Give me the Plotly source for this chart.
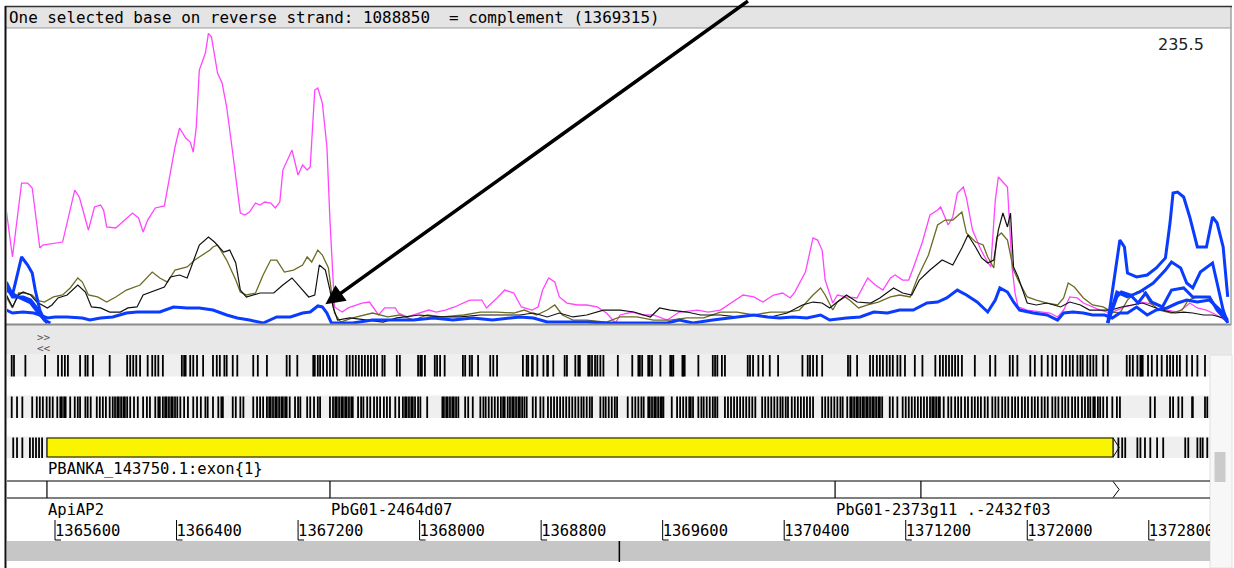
import plotly.graph_objects as go

W, H = 1234, 568

# ---------------------------------------------------------------- graph data
# sliding-window plot values (position in bp, window value)
MAGENTA_POS = [1365280,1365320,1365380,1365420,1365450,1365500,1365520,1365650,1365730,1365760,
    1365800,1365820,1365860,1365900,1365920,1365940,1366000,1366060,1366110,1366150,1366180,1366210,
    1366260,1366320,1366360,1366390,1366420,1366460,1366490,1366510,1366530,1366550,1366590,1366610,
    1366630,1366670,1366700,1366730,1366770,1366820,1366850,1366880,1366920,1366950,1366980,1367020,
    1367050,1367080,1367100,1367160,1367200,1367230,1367260,1367280,1367310,1367330,1367360,1367390,
    1367410,1367440,1367490,1367530,1367620,1367670,1367730,1367770,1367840,1367860,1367920,1368000,
    1368060,1368110,1368170,1368230,1368330,1368410,1368440,1368510,1368560,1368620,1368670,1368740,
    1368780,1368810,1368850,1368890,1368920,1368970,1369040,1369100,1369170,1369230,1369290,1369320,
    1369400,1369470,1369540,1369630,1369710,1369830,1369900,1369980,1370060,1370130,1370200,1370260,
    1370330,1370390,1370440,1370470,1370540,1370590,1370620,1370650,1370670,1370720,1370750,1370810,
    1370880,1370950,1371000,1371050,1371100,1371130,1371180,1371220,1371250,1371310,1371360,1371410,
    1371430,1371460,1371480,1371510,1371540,1371580,1371600,1371640,1371670,1371690,1371720,1371760,
    1371790,1371810,1371870,1371900,1371920,1371940,1372000,1372080,1372150,1372200,1372240,1372280,
    1372330,1372370,1372430,1372480,1372550,1372590,1372640,1372700,1372740,1372790,1372850,1372920,
    1372990,1373040,1373070,1373120,1373180,1373220,1373270,1373320]
MAGENTA_VAL = [91.5,54.3,114.2,114.2,110.2,61.6,64.0,66.4,108.5,102.9,85.1,76.1,94.8,96.4,92.3,78.6,
    77.8,84.2,89.9,85.9,74.5,84.2,94.0,95.6,122.3,143.4,158.8,150.7,147.4,139.3,159.6,205.7,219.5,
    235.5,232.5,203.3,195.2,175.8,138.5,89.9,88.3,90.7,98.0,96.4,98.8,98.0,94.0,98.8,124.7,140.9,
    120.7,128.8,124.7,127.2,189.5,191.2,179.0,143.4,84.2,13.8,9.7,13.0,17.0,17.8,7.3,13.0,13.0,8.9,
    5.7,8.9,11.3,9.7,11.3,13.8,19.4,19.4,13.0,21.1,27.5,25.1,13.8,11.3,13.8,27.5,37.3,34.0,21.9,17.0,
    15.4,15.4,13.8,8.9,0.8,7.3,9.7,7.3,7.3,3.2,9.7,11.3,9.7,11.3,17.8,23.5,21.9,17.8,23.5,25.1,21.1,
    25.9,42.1,69.7,68.0,59.9,35.6,17.0,23.5,21.9,21.1,37.3,31.6,27.5,37.3,39.7,35.6,35.6,45.4,66.4,
    88.3,92.3,94.8,85.9,80.2,86.7,106.1,111.0,102.1,76.1,66.4,61.6,54.3,46.2,100.4,119.1,111.0,46.2,
    25.1,13.8,11.3,9.7,8.9,5.7,11.3,21.9,21.1,17.0,13.8,11.3,8.9,11.3,13.8,15.4,17.8,17.0,15.4,11.3,
    9.7,13.8,17.0,13.0,11.3,8.9,5.7,1.6]

OLIVE_POS = [1365280,1365320,1365360,1365400,1365450,1365480,1365530,1365590,1365650,1365700,
    1365750,1365780,1365820,1365880,1365940,1366000,1366070,1366160,1366240,1366290,1366340,1366390,
    1366470,1366520,1366550,1366620,1366640,1366670,1366730,1366790,1366820,1366860,1366920,1366970,
    1367020,1367060,1367110,1367170,1367230,1367260,1367290,1367330,1367360,1367400,1367420,1367440,
    1367480,1367560,1367690,1367790,1367870,1367960,1368050,1368150,1368290,1368400,1368510,1368620,
    1368690,1368770,1368840,1368890,1368940,1369010,1369100,1369230,1369320,1369430,1369540,1369650,
    1369760,1369870,1369980,1370090,1370200,1370310,1370420,1370500,1370590,1370640,1370670,1370720,
    1370750,1370800,1370830,1370890,1370950,1371020,1371100,1371160,1371230,1371280,1371350,1371410,
    1371460,1371510,1371570,1371600,1371660,1371710,1371740,1371780,1371800,1371830,1371870,1371910,
    1371940,1372000,1372060,1372130,1372200,1372240,1372270,1372310,1372370,1372430,1372500,1372560,
    1372610,1372660,1372720,1372760,1372810,1372870,1372950,1373020,1373060,1373120,1373200,1373250,
    1373290,1373320]
OLIVE_VAL = [21.9,13.0,25.1,25.1,23.5,19.4,17.8,21.9,23.5,29.2,37.3,34.0,23.5,21.9,17.8,21.9,27.5,
    31.6,42.1,37.3,34.0,43.7,46.2,51.8,54.3,59.9,62.4,64.0,51.8,35.6,25.9,23.5,25.1,39.7,51.8,51.8,
    42.1,43.7,47.8,54.3,50.2,59.9,55.9,45.4,25.9,8.9,1.6,4.9,8.9,5.7,7.3,3.2,7.3,5.7,7.3,9.7,9.7,8.9,
    11.3,7.3,11.3,15.4,7.3,3.2,3.2,1.6,5.7,5.7,3.2,3.2,4.9,4.9,9.7,9.7,7.3,9.7,9.7,11.3,23.5,29.2,
    23.5,11.3,17.8,21.9,19.4,13.0,15.4,17.8,21.9,23.5,21.9,38.1,55.9,80.2,84.2,84.2,90.7,73.7,66.4,
    64.0,54.3,45.4,70.5,73.7,68.0,43.7,35.6,21.9,19.4,17.0,15.4,21.1,33.2,30.0,21.1,15.4,13.8,9.7,
    8.9,19.4,25.9,27.5,17.0,11.3,8.9,11.3,19.4,21.9,21.1,13.8,5.7,1.6]

BLACK_POS = [1365280,1365320,1365360,1365390,1365440,1365480,1365550,1365580,1365620,1365680,
    1365750,1365800,1365840,1365900,1365960,1366030,1366080,1366140,1366180,1366270,1366320,1366360,
    1366420,1366470,1366500,1366550,1366610,1366650,1366710,1366750,1366790,1366820,1366860,1366950,
    1367040,1367100,1367160,1367210,1367270,1367310,1367340,1367380,1367410,1367430,1367460,1367540,
    1367650,1367760,1367850,1368000,1368130,1368270,1368400,1368530,1368660,1368750,1368840,1368920,
    1369010,1369100,1369210,1369320,1369410,1369520,1369580,1369650,1369760,1369850,1369980,1370090,
    1370200,1370310,1370420,1370520,1370590,1370650,1370700,1370750,1370810,1370880,1370970,1371030,
    1371120,1371180,1371240,1371290,1371360,1371440,1371510,1371570,1371610,1371660,1371700,1371740,
    1371780,1371810,1371840,1371870,1371890,1371910,1371940,1372000,1372060,1372130,1372220,1372280,
    1372350,1372410,1372480,1372550,1372620,1372690,1372760,1372830,1372890,1372970,1373030,1373090,
    1373160,1373220,1373290,1373320]
BLACK_VAL = [23.5,13.8,23.5,25.9,23.5,17.8,13.0,15.4,21.1,23.5,31.6,25.9,13.8,13.0,9.7,9.7,13.0,
    13.8,23.5,27.5,30.0,38.1,39.7,37.3,47.8,64.0,70.5,66.4,58.3,59.9,49.4,27.5,21.9,25.1,25.1,31.6,
    37.3,30.0,21.9,23.5,47.8,43.7,27.5,13.8,3.2,4.9,3.2,1.6,4.9,7.3,5.7,5.7,7.3,7.3,7.3,8.9,5.7,8.9,
    5.7,7.3,11.3,11.3,9.7,5.7,13.0,11.3,9.7,7.3,7.3,5.7,7.3,5.7,8.9,15.4,17.8,17.0,13.0,17.8,23.5,
    17.8,17.0,21.1,29.2,25.1,23.5,35.6,43.7,51.8,47.8,61.6,72.1,62.4,53.5,49.4,51.8,76.1,89.9,78.6,
    89.9,46.2,38.1,17.0,15.4,17.0,13.8,17.8,15.4,11.3,11.3,11.3,13.8,15.4,17.0,13.8,11.3,8.9,9.7,
    8.9,7.3,7.3,4.9,1.6]

BLUE_POS = [1365280,1365320,1365390,1365460,1365500,1365550,1365600,1365680,1365780,1365830,
    1365900,1365980,1366070,1366140,1366210,1366290,1366380,1366470,1366550,1366640,1366730,1366800,
    1366880,1366970,1367060,1367150,1367230,1367280,1367330,1367360,1367390,1367420,1367560,1367690,
    1367830,1367960,1368090,1368220,1368350,1368480,1368660,1368750,1368840,1368970,1369100,1369230,
    1369370,1369500,1369630,1369710,1369800,1369930,1370060,1370200,1370290,1370370,1370460,1370550,
    1370640,1370700,1370810,1370900,1370990,1371080,1371160,1371250,1371340,1371410,1371470,1371540,
    1371600,1371670,1371740,1371790,1371820,1371870,1371910,1371950,1372040,1372130,1372200,1372240,
    1372300,1372370,1372430,1372510,1372560,1372610,1372660,1372720,1372790,1372850,1372920,1372990,
    1373050,1373120,1373200,1373270,1373320]
BLUE_VAL = [11.3,8.9,9.7,8.9,7.3,4.9,5.7,5.7,4.9,3.2,4.9,5.7,8.9,9.7,9.7,9.7,13.8,13.0,13.0,11.3,
    7.3,4.9,3.2,0.8,5.7,5.7,8.9,9.7,14.6,13.8,8.9,0.8,0.8,3.2,3.2,3.2,4.9,3.2,4.9,3.2,5.7,4.9,1.6,
    1.6,1.6,0.8,0.8,0.8,0.8,3.2,0.8,3.2,4.9,7.3,5.7,4.9,5.7,4.9,7.3,3.2,4.9,5.7,9.7,8.9,11.3,11.3,
    17.0,17.8,21.1,27.5,23.5,17.8,9.7,19.4,29.2,25.9,17.8,11.3,8.9,7.3,3.2,8.9,9.7,8.9,7.3,7.3,4.9,
    8.9,8.9,13.8,7.3,11.3,13.0,17.0,19.4,17.8,19.4,11.3,3.2]

# further blue plots, non-zero only at both ends of the view
BLUE_A_LEFT_POS = [1365280,1365320,1365380,1365420,1365450,1365470,1365500,1365530,1365570]
BLUE_A_LEFT_VAL = [34.0,23.5,54.3,47.8,41.3,27.5,11.3,3.2,0.8]
BLUE_A_RIGHT_POS = [1372530,1372580,1372610,1372640,1372660,1372720,1372790,1372850,1372910,1372940,
    1372960,1372990,1373030,1373070,1373120,1373180,1373220,1373250,1373290,1373320]
BLUE_A_RIGHT_VAL = [0.8,41.3,68.0,62.4,41.3,38.1,39.7,45.4,53.5,81.8,106.1,106.9,102.9,86.7,62.4,
    62.4,86.7,81.8,62.4,21.9]
BLUE_B_LEFT_POS = [1365280,1365320,1365390,1365440,1365480,1365520,1365550]
BLUE_B_LEFT_VAL = [30.0,21.9,21.9,19.4,13.0,4.9,0.8]
BLUE_B_RIGHT_POS = [1372530,1372590,1372660,1372740,1372830,1372910,1372950,1373010,1373050,1373090,
    1373140,1373220,1373250,1373290,1373320]
BLUE_B_RIGHT_VAL = [0.8,25.9,21.9,25.9,33.2,43.7,50.2,45.4,33.2,29.2,42.1,49.4,33.2,11.3,0.8]
BLUE_C_LEFT_POS = [1365280,1365370,1365440,1365490,1365550]
BLUE_C_LEFT_VAL = [27.5,21.1,17.0,8.9,0.8]
BLUE_C_RIGHT_POS = [1372530,1372590,1372620,1372680,1372730,1372780,1372820,1372890,1372950,1373030,
    1373090,1373200,1373250,1373320]
BLUE_C_RIGHT_VAL = [0.8,21.9,25.9,23.5,17.0,25.1,17.8,13.8,27.5,29.2,21.9,21.9,11.3,1.6]

# ------------------------------------------------------------- sequence data
# stop codons in the three forward frames (bp)
STOP_FRAME1 = [1365315,1365330,1365405,1365535,1365620,1365645,1365665,1365685,1365765,1365800,
    1365815,1365850,1365960,1366075,1366095,1366115,1366135,1366160,1366210,1366240,1366260,1366280,
    1366310,1366435,1366450,1366460,1366490,1366510,1366535,1366575,1366640,1366665,1366685,1366715,
    1366730,1366770,1366800,1366905,1366935,1366995,1367125,1367145,1367195,1367300,1367310,1367330,
    1367345,1367365,1367390,1367410,1367430,1367455,1367520,1367540,1367560,1367580,1367600,1367620,
    1367640,1367660,1367680,1367700,1367720,1367755,1367770,1367850,1367870,1367990,1368005,1368015,
    1368035,1368100,1368115,1368135,1368165,1368285,1368300,1368330,1368345,1368385,1368465,1368485,
    1368510,1368680,1368705,1368715,1368740,1368745,1368775,1368815,1368840,1368845,1368880,1368955,
    1368970,1369025,1369045,1369055,1369110,1369120,1369135,1369155,1369170,1369190,1369210,1369305,
    1369400,1369440,1369450,1369465,1369505,1369515,1369530,1369585,1369650,1369660,1369670,1369730,
    1369735,1369745,1369835,1369930,1369945,1369960,1369990,1370010,1370160,1370175,1370195,1370230,
    1370260,1370305,1370360,1370520,1370555,1370570,1370590,1370615,1370650,1370820,1370835,1370880,
    1370965,1370985,1371010,1371030,1371050,1371075,1371095,1371115,1371145,1371165,1371195,1371260,
    1371310,1371395,1371425,1371445,1371465,1371485,1371505,1371525,1371545,1371570,1371655,1371755,
    1371790,1371885,1371905,1371935,1372020,1372050,1372095,1372135,1372165,1372190,1372230,1372255,
    1372280,1372300,1372330,1372350,1372365,1372395,1372415,1372435,1372455,1372500,1372530,1372655,
    1372675,1372695,1372725,1372745,1372750,1372760,1372795,1372820,1372855,1372885,1372920,1372940,
    1372960,1372985,1373005,1373050,1373085,1373120,1373170]
STOP_FRAME2 = [1365315,1365350,1365385,1365450,1365480,1365500,1365520,1365545,1365565,1365585,
    1365615,1365635,1365645,1365660,1365670,1365700,1365730,1365750,1365765,1365800,1365815,1365835,
    1365875,1365895,1365915,1365935,1365960,1365980,1365995,1366010,1366020,1366035,1366050,1366060,
    1366075,1366095,1366120,1366145,1366180,1366205,1366225,1366260,1366280,1366290,1366310,1366325,
    1366335,1366350,1366365,1366375,1366390,1366405,1366425,1366450,1366475,1366510,1366535,1366560,
    1366590,1366605,1366640,1366675,1366695,1366705,1366770,1366790,1366820,1366840,1366905,1366930,
    1366950,1366970,1366995,1367010,1367020,1367035,1367050,1367060,1367075,1367090,1367100,1367115,
    1367125,1367145,1367180,1367200,1367215,1367260,1367280,1367305,1367330,1367345,1367410,1367430,
    1367445,1367455,1367470,1367485,1367495,1367510,1367520,1367535,1367550,1367560,1367595,1367615,
    1367630,1367655,1367675,1367700,1367720,1367740,1367765,1367785,1367805,1367840,1367865,1367890,
    1367905,1367915,1367930,1367945,1367955,1367970,1367990,1368005,1368050,1368150,1368160,1368175,
    1368185,1368200,1368215,1368225,1368240,1368255,1368300,1368320,1368350,1368400,1368420,1368435,
    1368455,1368475,1368495,1368515,1368535,1368550,1368560,1368580,1368595,1368610,1368620,1368635,
    1368650,1368660,1368675,1368690,1368705,1368745,1368765,1368795,1368815,1368845,1368865,1368885,
    1368905,1368925,1368945,1368965,1368985,1369005,1369025,1369045,1369065,1369080,1369100,1369120,
    1369135,1369190,1369210,1369225,1369245,1369265,1369285,1369300,1369370,1369400,1369420,1369440,
    1369460,1369475,1369505,1369515,1369530,1369545,1369555,1369570,1369585,1369595,1369605,1369660,
    1369695,1369715,1369735,1369755,1369775,1369785,1369800,1369835,1369855,1369870,1369890,1369910,
    1369930,1369945,1369960,1370010,1370030,1370050,1370070,1370090,1370110,1370130,1370150,1370170,
    1370190,1370210,1370255,1370275,1370295,1370315,1370335,1370355,1370375,1370390,1370410,1370425,
    1370450,1370470,1370490,1370510,1370530,1370550,1370570,1370590,1370650,1370670,1370690,1370710,
    1370730,1370750,1370770,1370785,1370815,1370835,1370845,1370860,1370875,1370885,1370900,1370915,
    1370925,1370940,1370950,1370965,1370980,1370990,1371005,1371020,1371030,1371045,1371095,1371115,
    1371145,1371180,1371200,1371220,1371240,1371260,1371280,1371300,1371320,1371340,1371360,1371375,
    1371385,1371400,1371415,1371425,1371450,1371480,1371500,1371525,1371545,1371565,1371590,1371610,
    1371635,1371655,1371675,1371695,1371720,1371740,1371770,1371790,1371810,1371835,1371855,1371875,
    1371900,1371920,1371940,1371965,1371985,1372005,1372030,1372050,1372070,1372095,1372115,1372135,
    1372165,1372185,1372205,1372230,1372250,1372270,1372295,1372315,1372335,1372360,1372380,1372400,
    1372415,1372435,1372445,1372465,1372480,1372500,1372525,1372560,1372590,1372610,1372810,1372840,
    1372940,1372960,1372995,1373020,1373085,1373090,1373170,1373185]
STOP_FRAME3 = [1365325,1365350,1365385,1365435,1365455,1365475,1365495,1365515,1372600,1372625,
    1372645,1372725,1372745,1372775,1372810,1372855,1372895,1373040,1373060,1373120,1373140,1373155,
    1373185]

# features
EXON_START, EXON_END = 1365547, 1372565
EXON_LABEL = "PBANKA_143750.1:exon{1}"
FEATURE_BOUNDS = [1365547, 1367410, 1370735, 1371300]
FEATURE_LABELS = [(1365547, "ApiAP2"), (1367410, "PbG01-2464d07"), (1370735, "PbG01-2373g11 .-2432f03")]
TICKS = [1365600, 1366400, 1367200, 1368000, 1368800, 1369600, 1370400, 1371200, 1372000, 1372800]
SELECTED_BASE = 1369315
REVERSE_COORD = 1088850

# view ranges (bp)
GRAPH_RANGE = [1365284, 1373335]
FEAT_RANGE = [1365284, 1373203]

MONO = "DejaVu Sans Mono"
C_MAGENTA, C_OLIVE, C_BLACK, C_BLUE = "#ff45ff", "#6b6b24", "#111111", "#0a3cff"


def px(x):
    return x / W


def py(y):
    return 1 - y / H


fig = go.Figure()


def line(xs, ys, color, width):
    fig.add_trace(go.Scatter(x=xs, y=ys, mode="lines", line=dict(color=color, width=width),
                             hoverinfo="skip", showlegend=False, xaxis="x", yaxis="y"))


line(MAGENTA_POS, MAGENTA_VAL, C_MAGENTA, 1.3)
line(OLIVE_POS, OLIVE_VAL, C_OLIVE, 1.3)
line(BLACK_POS, BLACK_VAL, C_BLACK, 1.2)
for lp, lv, rp, rv in [(BLUE_A_LEFT_POS, BLUE_A_LEFT_VAL, BLUE_A_RIGHT_POS, BLUE_A_RIGHT_VAL),
                       (BLUE_B_LEFT_POS, BLUE_B_LEFT_VAL, BLUE_B_RIGHT_POS, BLUE_B_RIGHT_VAL),
                       (BLUE_C_LEFT_POS, BLUE_C_LEFT_VAL, BLUE_C_RIGHT_POS, BLUE_C_RIGHT_VAL)]:
    line(lp + [None] + rp, lv + [None] + rv, C_BLUE, 3)
line(BLUE_POS, BLUE_VAL, C_BLUE, 3)

# frame rows: (top, bottom) in panel pixels
ROWS = [(355, 376.5), (396.5, 418), (437.5, 458)]


def stops(positions, top, bottom):
    xs, ys = [], []
    for p in positions:
        xs += [p, p, None]
        ys += [top, bottom, None]
    fig.add_trace(go.Scatter(x=xs, y=ys, mode="lines", line=dict(color="#000000", width=1.8),
                             hoverinfo="skip", showlegend=False, xaxis="x2", yaxis="y2"))


for frame, (t, b) in zip([STOP_FRAME1, STOP_FRAME2, STOP_FRAME3], ROWS):
    stops(frame, t, b)

shapes = []


def prect(x0, y0, x1, y1, fill, lc=None, lw=0, layer="below"):
    shapes.append(dict(type="rect", xref="paper", yref="paper", x0=px(x0), x1=px(x1),
                       y0=py(y0), y1=py(y1), fillcolor=fill,
                       line=dict(color=lc or fill, width=lw), layer=layer))


def pline(x0, y0, x1, y1, color, width, layer="above"):
    shapes.append(dict(type="line", xref="paper", yref="paper", x0=px(x0), x1=px(x1),
                       y0=py(y0), y1=py(y1), line=dict(color=color, width=width), layer=layer))


# header strip and panel frames
prect(6, 7, 1231, 28, "#e4e4e4")
prect(6, 325, 1232, 355, "#e8e8e8")
for t, b in ROWS:
    prect(7, t - 1, 1210, b, "#efefef")
prect(1210, 355, 1232, 568, "#f7f7f7", "#e0e0e0", 1)
shapes.append(dict(type="rect", xref="paper", yref="paper", x0=px(1214.5), x1=px(1225.5),
                   y0=py(452), y1=py(482), fillcolor="#cbcbcb", line=dict(width=0), layer="above"))
prect(7, 541, 1210, 561, "#c6c6c6")
pline(6, 28, 1231, 28, "#9a9a9a", 1)
pline(6, 324.5, 1231, 324.5, "#8c8c8c", 2)
pline(1231, 6, 1231, 325, "#a0a0a0", 1.5)
pline(5, 6.5, 1232, 6.5, "#333333", 1.5)
pline(5.5, 6, 5.5, 568, "#111111", 2)

# exon
shapes.append(dict(type="rect", xref="x2", yref="y2", x0=EXON_START, x1=EXON_END, y0=438, y1=457,
                   fillcolor="#faf400", line=dict(color="#000000", width=1.2), layer="above"))
shapes.append(dict(type="path", xref="x2", yref="y2",
                   path=f"M {EXON_END} 438 L {EXON_END + 40} 447.5 L {EXON_END} 457",
                   line=dict(color="#000000", width=1), layer="above"))

# feature box row
pline(7, 481, 1210, 481, "#000000", 1.2)
pline(7, 498, 1210, 498, "#000000", 1.2)
for b in FEATURE_BOUNDS:
    shapes.append(dict(type="line", xref="x2", yref="y2", x0=b, x1=b, y0=481, y1=498,
                       line=dict(color="#000000", width=1.2)))
shapes.append(dict(type="path", xref="x2", yref="y2",
                   path=f"M {EXON_END} 481.5 L {EXON_END + 40} 489.5 L {EXON_END} 497.5",
                   line=dict(color="#000000", width=1)))

# scale ticks
for t in TICKS:
    shapes.append(dict(type="line", xref="x2", yref="y2", x0=t, x1=t, y0=520, y1=540,
                       line=dict(color="#000000", width=1)))
    shapes.append(dict(type="line", xref="x2", yref="y2", xsizemode="pixel", xanchor=t,
                       x0=0, x1=6, y0=540, y1=540, line=dict(color="#000000", width=1)))

# tick labels, clipped at the right edge of the sequence panel
fig.add_trace(go.Scatter(x=TICKS, y=[532.5] * len(TICKS), mode="text", text=[str(t) for t in TICKS],
                         textposition="middle right", cliponaxis=True,
                         textfont=dict(family=MONO, size=15.5, color="#000000"),
                         hoverinfo="skip", showlegend=False, xaxis="x2", yaxis="y2"))

# selected base marker
shapes.append(dict(type="line", xref="x2", yref="y2", x0=SELECTED_BASE, x1=SELECTED_BASE,
                   y0=541, y1=562, line=dict(color="#000000", width=1.5)))

annotations = []


def ptext(x, y, text, size=15.5, anchor="left", color="#000000", family=MONO):
    annotations.append(dict(xref="paper", yref="paper", x=px(x), y=py(y), text=text,
                            showarrow=False, xanchor=anchor, yanchor="middle",
                            font=dict(family=family, size=size, color=color)))


def ftext(x, y, text, xshift=0):
    annotations.append(dict(xref="x2", yref="y2", x=x, y=y, text=text, showarrow=False,
                            xanchor="left", yanchor="middle", xshift=xshift,
                            font=dict(family=MONO, size=15.5, color="#000000")))


ptext(7, 18, f"One selected base on reverse strand: {REVERSE_COORD}\u00a0\u00a0= complement ({SELECTED_BASE})",
      size=15.9)
all_vals = MAGENTA_VAL + OLIVE_VAL + BLACK_VAL + BLUE_VAL
ptext(1206, 45, f"{max(all_vals):.1f}", size=16, anchor="right", color="#222222", family="DejaVu Sans")
ptext(35, 337, "&gt;&gt;", size=11, color="#555555")
ptext(35, 348, "&lt;&lt;", size=11, color="#555555")
ftext(EXON_START, 469, EXON_LABEL, xshift=-1)
for pos, lab in FEATURE_LABELS:
    ftext(pos, 510, lab, xshift=-1)

# pointer to the blue plot
annotations.append(dict(xref="x", yref="y", x=1367380, y=16, ax=424, ay=-312, text="",
                        showarrow=True, arrowhead=2, arrowsize=1.1, arrowwidth=3.5,
                        arrowcolor="#000000", standoff=0))

fig.update_layout(
    width=W, height=H, autosize=False,
    margin=dict(l=0, r=0, t=0, b=0, pad=0),
    paper_bgcolor="#ffffff", plot_bgcolor="rgba(0,0,0,0)",
    showlegend=False,
    xaxis=dict(domain=[px(7), px(1230)], range=GRAPH_RANGE, visible=False, anchor="y", fixedrange=True),
    yaxis=dict(domain=[py(324), py(28)], range=[0, 239.8], visible=False, anchor="x", fixedrange=True),
    xaxis2=dict(domain=[px(7), px(1210)], range=FEAT_RANGE, visible=False, anchor="y2", fixedrange=True),
    yaxis2=dict(domain=[0, 1], range=[H, 0], visible=False, anchor="x2", fixedrange=True),
    shapes=shapes, annotations=annotations,
)

fig.write_html("out.html", config={"displayModeBar": False})
